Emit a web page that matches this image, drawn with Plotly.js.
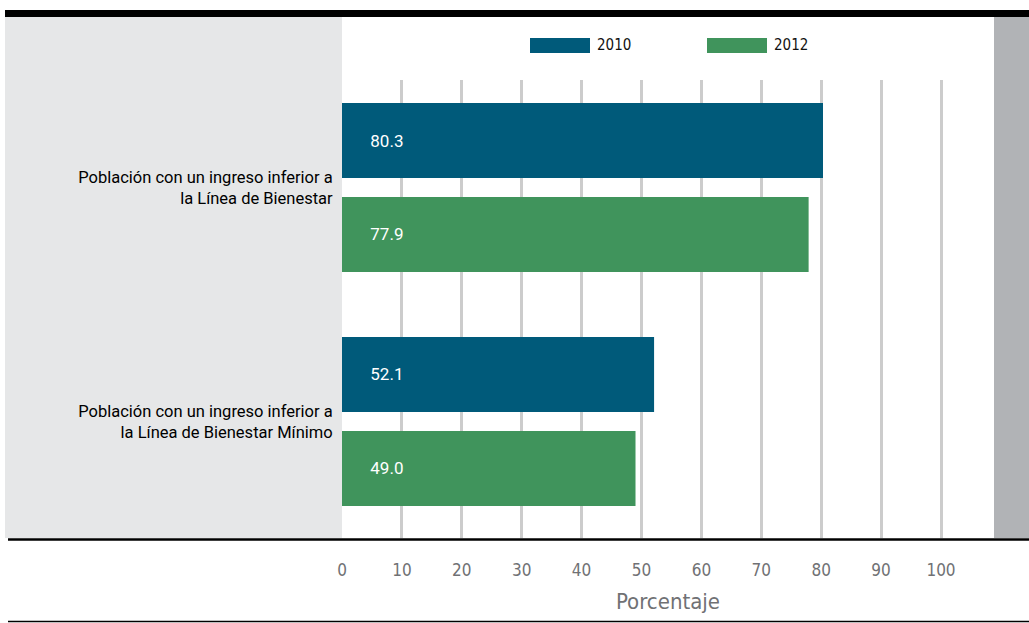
<!DOCTYPE html>
<html>
<head>
<meta charset="utf-8">
<script src="https://cdn.plot.ly/plotly-3.0.1.min.js"></script>
<style>html,body{margin:0;padding:0;background:#fff;}#chart{width:1029px;height:623px;}</style>
</head>
<body>
<div id="chart"></div>
<script>
// ---- data ----
const categories = [
  'Población con un ingreso inferior a<br>la Línea de Bienestar',
  'Población con un ingreso inferior a<br>la Línea de Bienestar Mínimo'
];
const seriesNames = ['2010', '2012'];
const values2010 = [80.3, 52.1];
const values2012 = [77.9, 49.0];
const xTickVals = [0, 10, 20, 30, 40, 50, 60, 70, 80, 90, 100];
const xTitle = 'Porcentaje';

// ---- styles ----
const colors = ['#005a7a', '#40945c'];
const W = 1029, H = 623;
const L = 342, R = 994, T = 80, B = 538;
const px = x => (x - L) / (R - L);
const py = y => (B - y) / (B - T);

const valueSets = [values2010, values2012];
const traces = seriesNames.map((name, i) => ({
  type: 'bar',
  orientation: 'h',
  name: name,
  y: categories,
  x: valueSets[i],
  marker: {color: colors[i], line: {width: 0}},
  texttemplate: '\u00a0\u00a0\u00a0\u00a0\u00a0\u00a0%{x:.1f}',
  textposition: 'inside',
  insidetextanchor: 'start',
  textfont: {family: 'Roboto, Arial, sans-serif', size: 17, color: '#ffffff'},
  hoverinfo: 'none',
  cliponaxis: false
}));

const shapes = [
  // left grey panel
  {type: 'rect', xref: 'paper', yref: 'paper', x0: px(5), x1: px(342), y0: py(538), y1: py(17),
   fillcolor: '#e6e7e8', line: {width: 0}, layer: 'below'},
  // right grey strip
  {type: 'rect', xref: 'paper', yref: 'paper', x0: px(994), x1: px(1029), y0: py(538), y1: py(17),
   fillcolor: '#b1b3b6', line: {width: 0}, layer: 'below'},
  // top black band
  {type: 'rect', xref: 'paper', yref: 'paper', x0: px(5), x1: px(1029), y0: py(17), y1: py(10),
   fillcolor: '#000000', line: {width: 0}},
  // bottom thick rule
  {type: 'line', xref: 'paper', yref: 'paper', x0: px(8), x1: px(1029), y0: py(539.5), y1: py(539.5),
   line: {color: '#000000', width: 2.5}},
  // bottom thin rule
  {type: 'line', xref: 'paper', yref: 'paper', x0: px(8), x1: px(1029), y0: py(621.5), y1: py(621.5),
   line: {color: '#000000', width: 1.5}}
];

// custom legend
const legendX = [530, 707];
const annotations = [];
seriesNames.forEach((name, i) => {
  shapes.push({type: 'rect', xref: 'paper', yref: 'paper',
    x0: px(legendX[i]), x1: px(legendX[i] + 60), y0: py(53), y1: py(38),
    fillcolor: colors[i], line: {width: 0}});
  annotations.push({xref: 'paper', yref: 'paper', x: px(legendX[i] + 65), y: py(45.5),
    xanchor: 'left', yanchor: 'middle', showarrow: false, text: name,
    font: {family: '"DejaVu Sans Condensed", "Liberation Sans Narrow", sans-serif', size: 15, color: '#111111'}});
});

const layout = {
  width: W, height: H,
  margin: {l: L, r: W - R, t: T, b: H - B, pad: 0},
  paper_bgcolor: '#ffffff',
  plot_bgcolor: '#ffffff',
  showlegend: false,
  barmode: 'group',
  bargap: 0.1966,
  bargroupgap: 0.202,
  xaxis: {
    range: [0, (R - L) / 5.99],
    tickmode: 'array', tickvals: xTickVals,
    showgrid: true, gridcolor: '#cccccc', gridwidth: 3,
    zeroline: false, showline: false, ticks: '',
    ticklabelstandoff: 20,
    tickfont: {family: '"DejaVu Sans Condensed", "Liberation Sans Narrow", sans-serif', size: 17, color: '#707174'},
    title: {text: xTitle, standoff: 14,
      font: {family: '"DejaVu Sans Condensed", "Liberation Sans Narrow", sans-serif', size: 22, color: '#707174'}},
    automargin: false,
    fixedrange: true
  },
  yaxis: {
    type: 'category',
    range: [1.4979, -0.4594],
    showgrid: false, zeroline: false, showline: false,
    ticks: 'outside', ticklen: 5, tickcolor: 'rgba(0,0,0,0)',
    tickfont: {family: 'Roboto, Arial, sans-serif', size: 16.5, color: '#000000'},
    automargin: false,
    fixedrange: true
  },
  shapes: shapes,
  annotations: annotations
};

Plotly.newPlot('chart', traces, layout, {displayModeBar: false, staticPlot: true});
</script>
</body>
</html>
